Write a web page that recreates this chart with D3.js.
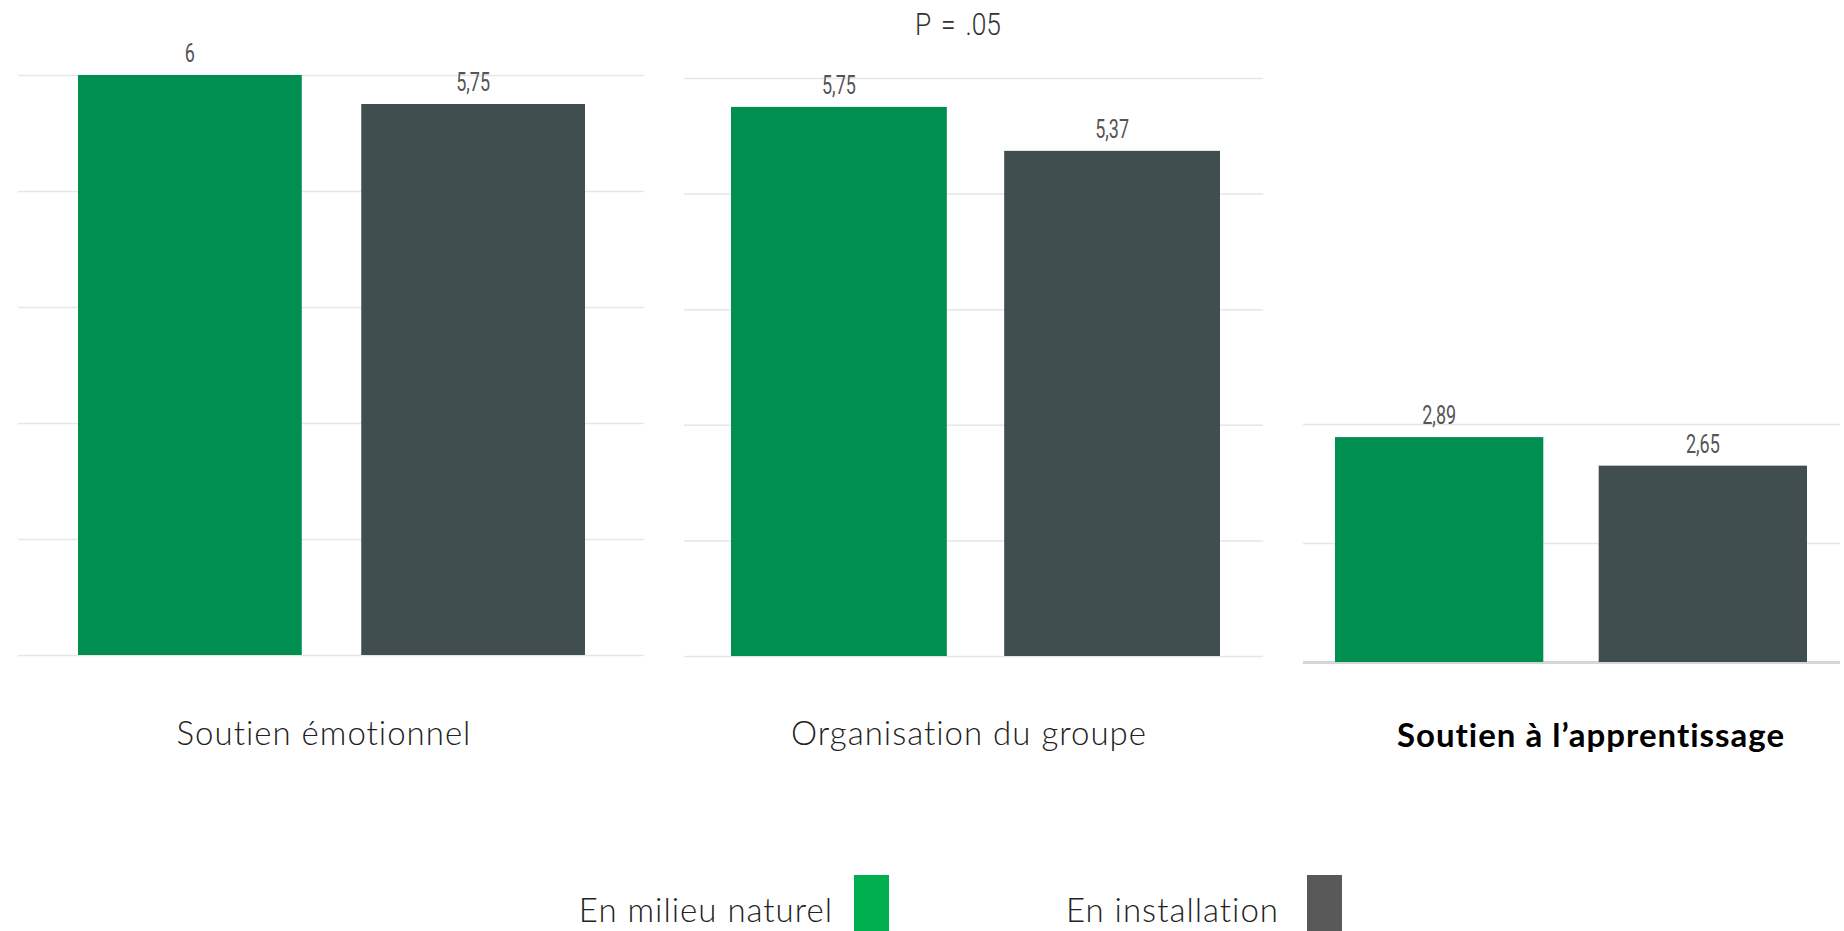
<!DOCTYPE html>
<html>
<head>
<meta charset="utf-8">
<script src="https://cdn.jsdelivr.net/npm/d3@7"></script>
<style>
  body { margin: 0; background: #fff; }
  svg { display: block; }
</style>
</head>
<body>
<script>
// Data
var categories = ["Soutien émotionnel", "Organisation du groupe", "Soutien à l’apprentissage"];
var seriesNames = ["En milieu naturel", "En installation"];
var naturel = [6, 5.75, 2.89];
var installation = [5.75, 5.37, 2.65];
var axisMin = [1, 1, 1];
var axisMax = [6, 6, 3];
var pValue = "P = .05";

var width = 1844, height = 931;
var barColors = ["#008f51", "#414e50"];
var legendColors = ["#00b050", "#595959"];

// where each small panel sits on the page
var panels = [
  { grid: [18, 644], bars: [78, 585], y: [655, 75], labelX: 324, bold: false },
  { grid: [684, 1263], bars: [731, 1220], y: [656, 78], labelX: 969, bold: false },
  { grid: [1303, 1840], bars: [1335, 1807], y: [662, 424], labelX: 1591, bold: true }
];

var svg = d3.select("body").append("svg")
  .attr("width", width)
  .attr("height", height);

var fmt = function(d) { return String(d).replace(".", ","); };

panels.forEach(function(p, i) {
  var x = d3.scaleBand()
    .domain(seriesNames)
    .range(p.bars)
    .paddingInner(0.21)
    .paddingOuter(0);

  var y = d3.scaleLinear()
    .domain([axisMin[i], axisMax[i]])
    .range(p.y);

  // gridlines
  var grid = svg.append("g")
    .attr("transform", "translate(" + p.grid[0] + ",0)")
    .call(d3.axisLeft(y)
      .tickValues(d3.range(axisMin[i], axisMax[i] + 0.001, 1))
      .tickSize(-(p.grid[1] - p.grid[0]))
      .tickFormat(""));
  grid.select(".domain").remove();
  grid.selectAll(".tick line")
    .attr("stroke", function(d) { return (i === 2 && d === axisMin[i]) ? "#d6d6d6" : "#e6e6e6"; })
    .attr("stroke-width", function(d) { return (i === 2 && d === axisMin[i]) ? 3 : 1.5; });

  var vals = [naturel[i], installation[i]];

  svg.append("g").selectAll("rect")
    .data(vals)
    .enter().append("rect")
    .attr("x", function(d, j) { return x(seriesNames[j]); })
    .attr("y", function(d) { return y(d); })
    .attr("width", x.bandwidth())
    .attr("height", function(d) { return y(axisMin[i]) - y(d); })
    .attr("fill", function(d, j) { return barColors[j]; });

  // value labels, squeezed to look condensed
  svg.append("g").selectAll("text")
    .data(vals)
    .enter().append("text")
    .attr("transform", function(d, j) {
      return "translate(" + (x(seriesNames[j]) + x.bandwidth() / 2) + "," + (y(d) - 13) + ") scale(0.72,1)";
    })
    .attr("text-anchor", "middle")
    .attr("font-family", "Roboto, sans-serif")
    .attr("font-size", 25)
    .attr("fill", "#555")
    .text(fmt);

  svg.append("text")
    .attr("x", p.labelX)
    .attr("y", p.bold ? 747 : 745)
    .attr("text-anchor", "middle")
    .attr("font-family", "Lato, 'Open Sans', sans-serif")
    .attr("font-weight", p.bold ? 700 : 300)
    .attr("font-size", 33)
    .attr("letter-spacing", 1)
    .attr("fill", p.bold ? "#000" : "#222")
    .text(categories[i]);
});

// p value on top
svg.append("text")
  .attr("transform", "translate(958,35) scale(0.85,1)")
  .attr("text-anchor", "middle")
  .attr("font-family", "Roboto, sans-serif")
  .attr("font-weight", 300)
  .attr("font-size", 31)
  .attr("word-spacing", 4)
  .attr("fill", "#333")
  .text(pValue);

// legend
var legend = [
  { text: seriesNames[0], textEnd: 833, sw: 854 },
  { text: seriesNames[1], textEnd: 1279, sw: 1307 }
];
legend.forEach(function(l, j) {
  svg.append("text")
    .attr("x", l.textEnd)
    .attr("y", 922)
    .attr("text-anchor", "end")
    .attr("font-family", "Lato, 'Open Sans', sans-serif")
    .attr("font-weight", 300)
    .attr("font-size", 33)
    .attr("letter-spacing", 1)
    .attr("fill", "#222")
    .text(l.text);
  svg.append("rect")
    .attr("x", l.sw)
    .attr("y", 875)
    .attr("width", 35)
    .attr("height", 60)
    .attr("fill", legendColors[j]);
});
</script>
</body>
</html>
